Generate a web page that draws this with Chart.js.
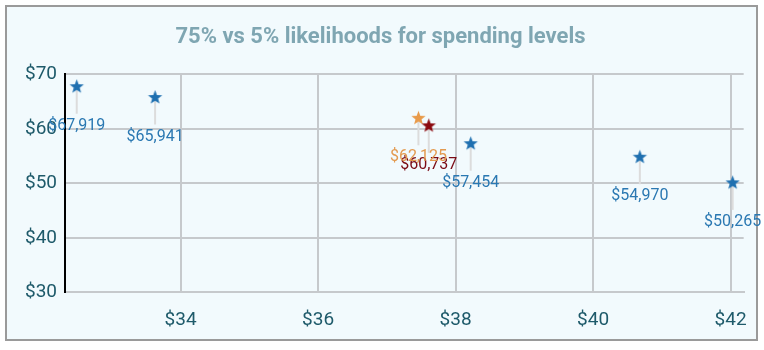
<!DOCTYPE html>
<html>
<head>
<meta charset="utf-8">
<script src="https://cdn.jsdelivr.net/npm/chart.js@4.4.0/dist/chart.umd.min.js"></script>
<style>
  html, body { margin: 0; padding: 0; background: #ffffff; }
  #frame {
    position: absolute; left: 5px; top: 5px; width: 749px; height: 332px;
    border: 2px solid #9a9a9a; background: #f2fafd;
  }
  #wrap { position: absolute; left: 0; top: 0; width: 764px; height: 350px; }
</style>
</head>
<body>
<div id="frame"></div>
<div id="wrap"><canvas id="spendChart" width="764" height="350"></canvas></div>
<script>
// spending levels (in $ thousands)
const blueX = [32.49, 33.63, 38.22, 40.68, 42.03];
const blueY = [67.919, 65.941, 57.454, 54.970, 50.265];
const redX = [37.61];
const redY = [60.737];
const orangeX = [37.46];
const orangeY = [62.125];

const xTicks = [34, 36, 38, 40, 42];
const yTicks = [30, 40, 50, 60, 70];

const BLUE = '#1f70b0';
const RED = '#8b0a0f';
const ORANGE = '#e89a4a';

// filled five-point star used as the point marker
function makeStar(color, r) {
  const c = document.createElement('canvas');
  const s = Math.ceil(r * 2 + 2);
  c.width = s; c.height = s;
  const g = c.getContext('2d');
  const cx = s / 2, cy = s / 2 + 1;
  g.beginPath();
  for (let i = 0; i < 10; i++) {
    const rad = i % 2 === 0 ? r : r * 0.42;
    const a = -Math.PI / 2 + i * Math.PI / 5;
    const px = cx + rad * Math.cos(a), py = cy + rad * Math.sin(a);
    if (i === 0) g.moveTo(px, py); else g.lineTo(px, py);
  }
  g.closePath();
  g.fillStyle = color;
  g.fill();
  return c;
}

function toPoints(xs, ys) {
  return xs.map((x, i) => ({ x: x, y: ys[i] }));
}

function money(v) {
  return '$' + Math.round(v * 1000).toLocaleString('en-US');
}

// leader line + value label under each star
const valueLabels = {
  id: 'valueLabels',
  beforeDatasetsDraw(chart) {
    const ctx = chart.ctx;
    ctx.save();
    ctx.strokeStyle = '#dcdcdc';
    ctx.lineWidth = 2;
    chart.data.datasets.forEach((ds, di) => {
      chart.getDatasetMeta(di).data.forEach(pt => {
        ctx.beginPath();
        ctx.moveTo(pt.x, pt.y + 4);
        ctx.lineTo(pt.x, pt.y + 28);
        ctx.stroke();
      });
    });
    ctx.restore();
  },
  afterDatasetsDraw(chart) {
    const ctx = chart.ctx;
    ctx.save();
    ctx.font = '16px Roboto';
    ctx.textAlign = 'center';
    ctx.textBaseline = 'middle';
    chart.data.datasets.forEach((ds, di) => {
      ctx.fillStyle = ds.labelColor;
      chart.getDatasetMeta(di).data.forEach((pt, i) => {
        ctx.fillText(money(ds.data[i].y), pt.x, pt.y + 40);
      });
    });
    ctx.restore();
  }
};

new Chart(document.getElementById('spendChart'), {
  type: 'scatter',
  data: {
    datasets: [
      { label: 'Spending', data: toPoints(blueX, blueY), pointStyle: makeStar(BLUE, 7.5), labelColor: '#2a78b2' },
      { label: '5% likelihood', data: toPoints(redX, redY), pointStyle: makeStar(RED, 7.5), labelColor: '#7a0a14' },
      { label: '75% likelihood', data: toPoints(orangeX, orangeY), pointStyle: makeStar(ORANGE, 7.5), labelColor: '#e39a4f' }
    ]
  },
  options: {
    responsive: false,
    animation: false,
    layout: { padding: { left: 17, right: 20, top: 10, bottom: 1 } },
    plugins: {
      legend: { display: false },
      tooltip: { enabled: false },
      title: {
        display: true,
        text: '75% vs 5% likelihoods for spending levels',
        color: '#7fa6b2',
        font: { family: 'Roboto', size: 22, weight: 'bold' },
        padding: { top: 14, bottom: 24 }
      }
    },
    scales: {
      x: {
        type: 'linear',
        min: 32.32,
        max: 42.19,
        afterBuildTicks: axis => { axis.ticks = xTicks.map(v => ({ value: v })); },
        ticks: {
          color: '#1e5a6a',
          font: { family: 'Roboto', size: 19 },
          padding: 17,
          callback: v => '$' + v
        },
        grid: { color: '#c6c9cc', lineWidth: 2, drawTicks: false },
        border: { color: '#c6c9cc', width: 2 }
      },
      y: {
        min: 30,
        max: 70,
        afterBuildTicks: axis => { axis.ticks = yTicks.map(v => ({ value: v })); },
        ticks: {
          color: '#1e5a6a',
          font: { family: 'Roboto', size: 19 },
          padding: 8,
          callback: v => '$' + v
        },
        grid: { color: '#c6c9cc', lineWidth: 2, drawTicks: false },
        border: { color: '#000000', width: 2 }
      }
    }
  },
  plugins: [valueLabels]
});
</script>
</body>
</html>
